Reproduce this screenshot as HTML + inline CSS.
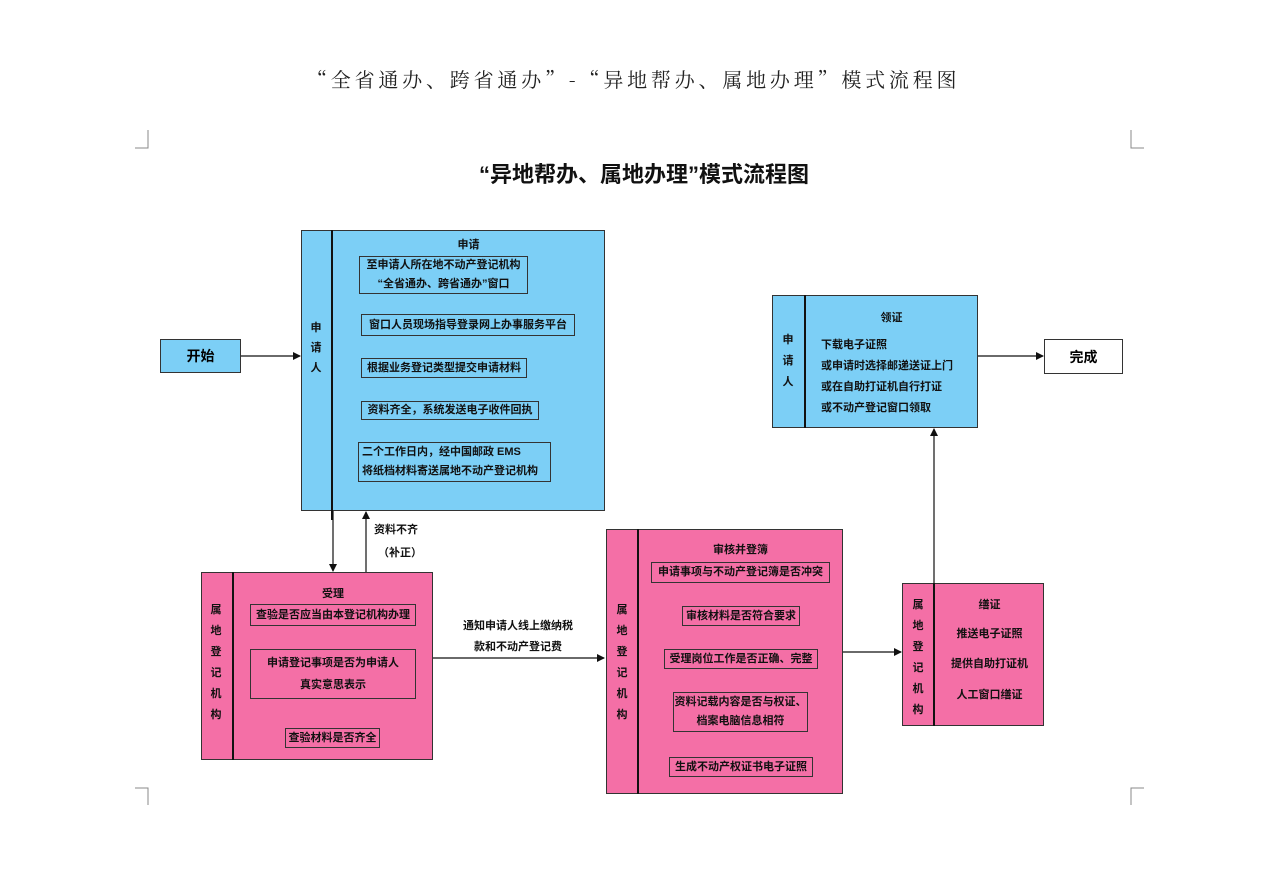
<!DOCTYPE html>
<html><head><meta charset="utf-8"><style>
body{margin:0;width:1266px;height:896px;background:#fff;position:relative;overflow:hidden;font-family:"Liberation Sans","Noto Sans CJK SC",sans-serif;}
.a{position:absolute;}
.bx{position:absolute;border:1px solid #333;box-sizing:border-box;}
.blue{background:#7ccff6;}
.pink{background:#f46fa6;}
.t{position:absolute;font-size:11px;font-weight:bold;color:#111;white-space:nowrap;text-align:center;line-height:20px;}
.sb{position:absolute;border:1px solid #333;box-sizing:border-box;font-size:11px;font-weight:bold;color:#111;text-align:center;white-space:nowrap;display:flex;align-items:center;justify-content:center;flex-direction:column;line-height:19px;}
.v{position:absolute;font-size:11px;font-weight:bold;color:#111;width:14px;text-align:center;line-height:20px;}
.div{position:absolute;width:2px;background:#111;}
</style></head><body>
<div class="a" style="left:307px;top:64px;font-family:'Noto Serif CJK SC',serif;font-size:20px;letter-spacing:3.8px;color:#222;white-space:nowrap;">“全省通办、跨省通办”-“异地帮办、属地办理”模式流程图</div>
<div class="a" style="left:479px;top:157px;font-size:22px;font-weight:bold;color:#111;white-space:nowrap;">“异地帮办、属地办理”模式流程图</div>
<svg class="a" style="left:0;top:0" width="1266" height="896">
<g stroke="#888" fill="none" stroke-width="1">
<path d="M135 148 H148 V130"/><path d="M1131 130 V148 H1144"/>
<path d="M135 788 H148 V805"/><path d="M1131 805 V788 H1144"/>
</g>
<defs><marker id="m" markerWidth="8" markerHeight="8" refX="7" refY="4" orient="auto" markerUnits="userSpaceOnUse"><path d="M0 0 L8 4 L0 8 z" fill="#111"/></marker></defs>
<g stroke="#111" stroke-width="1.2" fill="none" marker-end="url(#m)">
<line x1="241" y1="356" x2="300" y2="356"/>
<line x1="444" y1="294" x2="444" y2="313"/>
<line x1="444" y1="336" x2="444" y2="357"/>
<line x1="444" y1="378" x2="444" y2="400"/>
<line x1="444" y1="420" x2="444" y2="441"/>
<line x1="333" y1="511" x2="333" y2="571"/>
<line x1="366" y1="572" x2="366" y2="512"/>
<line x1="333" y1="626" x2="333" y2="648"/>
<line x1="333" y1="699" x2="333" y2="727"/>
<line x1="433" y1="658" x2="604" y2="658"/>
<line x1="740" y1="583" x2="740" y2="605"/>
<line x1="740" y1="626" x2="740" y2="648"/>
<line x1="740" y1="669" x2="740" y2="691"/>
<line x1="740" y1="732" x2="740" y2="756"/>
<line x1="843" y1="652" x2="901" y2="652"/>
<line x1="934" y1="583" x2="934" y2="429"/>
<line x1="978" y1="356" x2="1043" y2="356"/>
</g>
</svg>
<div class="bx blue" style="left:160px;top:339px;width:81px;height:34px;display:flex;align-items:center;justify-content:center;font-size:14px;font-weight:bold;">开始</div>
<div class="bx" style="left:1044px;top:339px;width:79px;height:35px;display:flex;align-items:center;justify-content:center;font-size:14px;font-weight:bold;">完成</div>

<div class="bx blue" style="left:301px;top:230px;width:304px;height:281px;"></div>
<div class="div" style="left:331px;top:230px;height:290px;"></div>
<div class="v" style="left:309px;top:318px;">申<br>请<br>人</div>
<div class="t" style="left:332px;width:273px;top:235px;">申请</div>
<div class="sb" style="left:359px;top:256px;width:169px;height:38px;"><span>至申请人所在地不动产登记机构</span><span>“全省通办、跨省通办”窗口</span></div>
<div class="sb" style="left:361px;top:314px;width:214px;height:22px;">窗口人员现场指导登录网上办事服务平台</div>
<div class="sb" style="left:361px;top:358px;width:166px;height:20px;">根据业务登记类型提交申请材料</div>
<div class="sb" style="left:361px;top:401px;width:178px;height:19px;">资料齐全，系统发送电子收件回执</div>
<div class="sb" style="left:358px;top:442px;width:193px;height:40px;align-items:flex-start;padding-left:3px;"><span>二个工作日内，经中国邮政 EMS</span><span>将纸档材料寄送属地不动产登记机构</span></div>

<div class="t" style="left:374px;top:520px;">资料不齐</div>
<div class="t" style="left:378px;top:543px;">（补正）</div>

<div class="bx pink" style="left:201px;top:572px;width:232px;height:188px;"></div>
<div class="div" style="left:232px;top:572px;height:188px;"></div>
<div class="v" style="left:209px;top:600px;line-height:21px;">属<br>地<br>登<br>记<br>机<br>构</div>
<div class="t" style="left:233px;width:200px;top:584px;">受理</div>
<div class="sb" style="left:250px;top:604px;width:166px;height:22px;">查验是否应当由本登记机构办理</div>
<div class="sb" style="left:250px;top:649px;width:166px;height:50px;line-height:22px;"><span>申请登记事项是否为申请人</span><span>真实意思表示</span></div>
<div class="sb" style="left:285px;top:728px;width:95px;height:20px;">查验材料是否齐全</div>

<div class="t" style="left:448px;width:140px;top:616px;">通知申请人线上缴纳税</div>
<div class="t" style="left:448px;width:140px;top:637px;">款和不动产登记费</div>

<div class="bx pink" style="left:606px;top:529px;width:237px;height:265px;"></div>
<div class="div" style="left:637px;top:529px;height:265px;"></div>
<div class="v" style="left:615px;top:600px;line-height:21px;">属<br>地<br>登<br>记<br>机<br>构</div>
<div class="t" style="left:638px;width:205px;top:540px;">审核并登簿</div>
<div class="sb" style="left:651px;top:562px;width:179px;height:21px;">申请事项与不动产登记簿是否冲突</div>
<div class="sb" style="left:682px;top:606px;width:118px;height:20px;">审核材料是否符合要求</div>
<div class="sb" style="left:664px;top:649px;width:154px;height:20px;">受理岗位工作是否正确、完整</div>
<div class="sb" style="left:673px;top:692px;width:135px;height:40px;"><span>资料记载内容是否与权证、</span><span>档案电脑信息相符</span></div>
<div class="sb" style="left:669px;top:757px;width:144px;height:20px;">生成不动产权证书电子证照</div>

<div class="bx blue" style="left:772px;top:295px;width:206px;height:133px;"></div>
<div class="div" style="left:804px;top:295px;height:133px;"></div>
<div class="v" style="left:781px;top:330px;line-height:21px;">申<br>请<br>人</div>
<div class="t" style="left:805px;width:173px;top:308px;">领证</div>
<div class="t" style="left:821px;top:335px;text-align:left;line-height:21px;">下载电子证照<br>或申请时选择邮递送证上门<br>或在自助打证机自行打证<br>或不动产登记窗口领取</div>

<div class="bx pink" style="left:902px;top:583px;width:142px;height:143px;"></div>
<div class="div" style="left:933px;top:583px;height:143px;"></div>
<div class="v" style="left:911px;top:595px;line-height:21px;">属<br>地<br>登<br>记<br>机<br>构</div>
<div class="t" style="left:935px;width:109px;top:595px;">缮证</div>
<div class="t" style="left:935px;width:109px;top:624px;">推送电子证照</div>
<div class="t" style="left:935px;width:109px;top:654px;">提供自助打证机</div>
<div class="t" style="left:935px;width:109px;top:685px;">人工窗口缮证</div>
</body></html>
